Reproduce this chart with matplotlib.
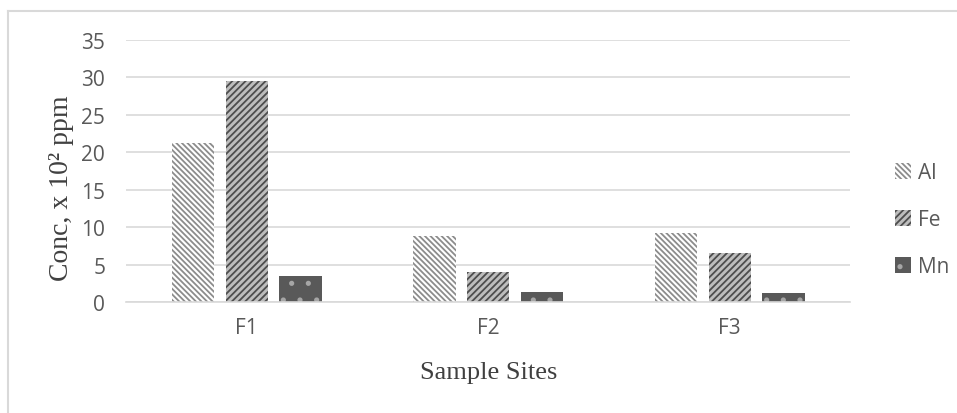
import numpy as np
import matplotlib
matplotlib.use('Agg')
import matplotlib.pyplot as plt
from matplotlib.lines import Line2D

sites = ['F1', 'F2', 'F3']
metals = ['Al', 'Fe', 'Mn']
al = [21.2, 8.8, 9.2]
fe = [29.5, 4.0, 6.5]
mn = [3.5, 1.3, 1.2]

plt.rcParams['hatch.linewidth'] = 1.3

fig = plt.figure(figsize=(9.57, 4.14), dpi=100)
ax = fig.add_axes([0.1317, 0.268, 0.757, 0.633])

x = np.arange(len(sites))
w = 0.175
step = 0.223
styles = [
    dict(facecolor='white', edgecolor='#8c8c8c', hatch='\\' * 6),
    dict(facecolor='#bdbdbd', edgecolor='#4d4d4d', hatch='/' * 5),
    dict(facecolor='#595959', edgecolor='#a6a6a6', hatch='.'),
]
for i, (vals, name) in enumerate(zip([al, fe, mn], metals)):
    ax.bar(x + (i - 1) * step, vals, w, label=name, linewidth=0, **styles[i])

ax.set_xlim(-0.5, 2.5)
ax.set_ylim(0, 35)
ax.set_yticks(range(0, 36, 5))
ax.set_yticklabels([str(v) for v in range(0, 36, 5)], fontsize=15, family='Open Sans')
ax.set_xticks(x)
ax.set_xticklabels(sites, fontsize=15, family='Open Sans')
ax.grid(axis='y', color='#d9d9d9', linewidth=1.2)
ax.set_axisbelow(True)
for s in ['top', 'right', 'left']:
    ax.spines[s].set_visible(False)
ax.spines['bottom'].set_color('#d9d9d9')
ax.spines['bottom'].set_linewidth(1.2)
ax.tick_params(axis='y', length=0, colors='#595959', pad=15)
ax.tick_params(axis='x', length=0, colors='#595959', pad=11)

ax.set_ylabel('Conc, x 10² ppm', fontsize=20, family='Liberation Serif', color='#404040')
ax.yaxis.set_label_coords(-0.072, 0.44)
ax.set_xlabel('Sample Sites', fontsize=19, family='Liberation Serif', color='#404040', labelpad=16)

leg = ax.legend(loc='center left', bbox_to_anchor=(1.035, 0.315), frameon=False,
                handlelength=0.8, handleheight=0.8, handletextpad=0.3, labelspacing=1.25,
                prop={'family': 'Open Sans', 'size': 15})
for t in leg.get_texts():
    t.set_color('#595959')

# light outer frame (top and left edges visible)
fig.add_artist(Line2D([0.0084, 1.0], [1 - 12 / 414] * 2, color='#d9d9d9', lw=1.5, transform=fig.transFigure))
fig.add_artist(Line2D([0.0084] * 2, [0.0, 1 - 12 / 414], color='#d9d9d9', lw=1.5, transform=fig.transFigure))

fig.savefig('out.png', dpi=100)
